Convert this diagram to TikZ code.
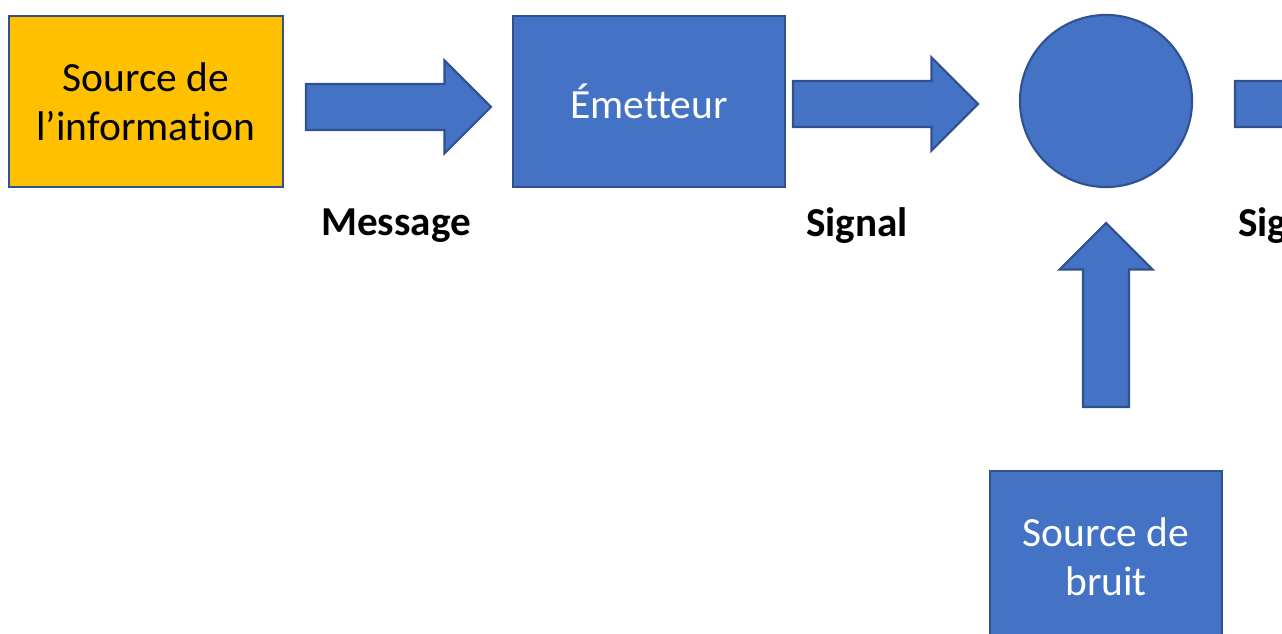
\documentclass[tikz,border=0pt]{standalone}
\usepackage{fontspec}
\setmainfont{Carlito}[Ligatures=NoCommon]
\usepackage{tikz}
\usetikzlibrary{calc}
\definecolor{boxblue}{HTML}{4472C4}
\definecolor{edgeblue}{HTML}{2F528F}
\definecolor{boxyellow}{HTML}{FFC000}

\begin{document}
\begin{tikzpicture}[x=0.01cm, y=0.01cm,
    block/.style={rectangle, draw=edgeblue, line width=0.6pt, fill=boxblue, text=white,
        align=center, font=\fontsize{11.8}{13.9}\selectfont},
    lbl/.style={font=\fontsize{11.7}{13.9}\selectfont\bfseries},
    fatarrow/.style={draw=edgeblue, fill=boxblue, line width=0.6pt, line join=miter,
        to path={let \p1=(\tikztostart), \p2=(\tikztotarget), \n1={atan2(\y2-\y1,\x2-\x1)} in
            ($(\tikztostart)+(\n1+90:23)$)
            -- ($(\tikztotarget)+(\n1+180:46.5)+(\n1+90:23)$)
            -- ($(\tikztotarget)+(\n1+180:46.5)+(\n1+90:46.5)$)
            -- (\tikztotarget)
            -- ($(\tikztotarget)+(\n1+180:46.5)+(\n1-90:46.5)$)
            -- ($(\tikztotarget)+(\n1+180:46.5)+(\n1-90:23)$)
            -- ($(\tikztostart)+(\n1-90:23)$) -- cycle}}]

            \useasboundingbox (0,0) rectangle (1282,-634);
            \clip (0,0) rectangle (1282,-634);

            % Nodes
            \node[block, fill=boxyellow, text=black, minimum width=2.74cm, minimum height=1.71cm] (1) at (146,-101.5) {Source de\\l'information};
            \node[block, minimum width=2.72cm, minimum height=1.71cm] (2) at (649,-101.5) {Émetteur};
            \node[block, circle, minimum size=1.72cm] (3) at (1106,-101) {};
            \node[block, minimum width=2.32cm, minimum height=1.72cm] (4) at (1106,-557) {Source de\\bruit};

            \node[lbl] (5) at (396,-226) {Message};
            \node[lbl] (6) at (857,-226) {Signal};
            \node[lbl] (7) at (1289,-226) {Signal};

            % Arrow ends
            \coordinate (a1) at (306,-107);
            \coordinate (b1) at (491,-107);
            \coordinate (a2) at (793,-104);
            \coordinate (b2) at (978,-104);
            \coordinate (a3) at (1235,-104);
            \coordinate (b3) at (1420,-104);
            \coordinate (a4) at (1106,-407);
            \coordinate (b4) at (1106,-223);

            % Arrows
            \draw[fatarrow] (a1) to (b1);
            \draw[fatarrow] (a2) to (b2);
            \draw[fatarrow] (a3) to (b3);
            \draw[fatarrow] (a4) to (b4);
        \end{tikzpicture}
\end{document}
